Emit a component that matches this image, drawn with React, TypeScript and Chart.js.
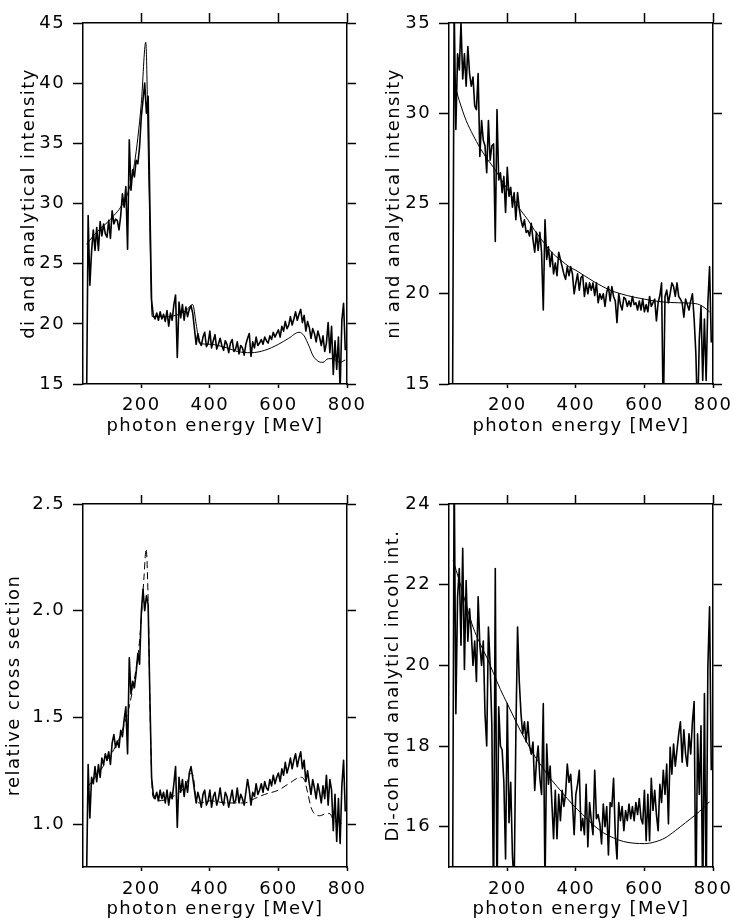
import React, { useEffect, useRef } from "react";
import { Chart, registerables } from "chart.js";

Chart.register(...registerables);

// ---------------- data ----------------
const energy = [
  40, 45, 50, 55, 60, 65, 70, 75, 80, 85, 90, 95, 100, 105, 110, 115,
  120, 125, 130, 135, 140, 145, 150, 155, 160, 165, 170, 175, 180, 185, 190, 195,
  200, 205, 210, 215, 220, 225, 230, 235, 240, 245, 250, 255, 260, 265, 270, 275,
  280, 285, 290, 295, 300, 305, 310, 315, 320, 325, 330, 335, 340, 345, 350, 355,
  360, 365, 370, 375, 380, 385, 390, 395, 400, 405, 410, 415, 420, 425, 430, 435,
  440, 445, 450, 455, 460, 465, 470, 475, 480, 485, 490, 495, 500, 505, 510, 515,
  520, 525, 530, 535, 540, 545, 550, 555, 560, 565, 570, 575, 580, 585, 590, 595,
  600, 605, 610, 615, 620, 625, 630, 635, 640, 645, 650, 655, 660, 665, 670, 675,
  680, 685, 690, 695, 700, 705, 710, 715, 720, 725, 730, 735, 740, 745, 750, 755,
  760, 765, 770, 775, 780, 785, 790, 795,
];

// panel 1: di
const diMeasured = [
  12.0, 29.0, 23.2, 26.0, 27.8, 26.1, 28.0, 26.1, 28.5, 27.3, 28.3, 27.5, 27.2, 28.6, 27.1, 29.4,
  28.3, 28.7, 28.6, 27.8, 29.0, 30.8, 29.7, 31.4, 26.2, 35.3, 31.1, 32.8, 32.2, 33.6, 33.3, 34.7,
  37.2, 38.6, 40.0, 37.5, 38.9, 30.0, 22.0, 20.7, 20.4, 20.9, 20.3, 21.0, 20.4, 20.8, 20.2, 21.1,
  19.8, 20.9, 20.3, 21.6, 22.4, 17.2, 21.8, 20.5, 21.6, 20.3, 21.4, 20.6, 21.2, 21.5, 20.9, 19.6,
  18.3, 19.2, 18.5, 18.2, 18.9, 19.3, 18.1, 18.4, 19.4, 18.0, 18.6, 19.1, 17.9, 18.3, 18.8, 18.2,
  17.8, 18.6, 18.3, 17.6, 18.4, 18.7, 17.7, 17.9, 18.5, 17.5, 18.2, 18.0, 17.4, 18.3, 18.8, 19.2,
  17.3, 18.5, 18.0, 18.9, 18.2, 18.4, 18.7, 18.3, 18.9, 18.6, 18.4, 19.0, 18.7, 19.3, 18.9, 19.2,
  19.5, 18.9, 19.8, 19.4, 20.2, 19.6, 19.9, 20.6, 19.9, 20.4, 21.0, 20.3, 20.8, 21.2, 20.1, 20.7,
  19.4, 20.2, 19.7, 18.8, 19.6, 19.2, 18.5, 19.4, 18.9, 18.2, 19.0, 17.7, 18.4, 20.1, 17.6, 19.8,
  15.8, 18.6, 16.2, 18.9, 14.5, 20.3, 21.7, 17.8,
];
const diAnalyticE = [40, 60, 80, 100, 120, 140, 160, 180, 200, 213, 222, 232, 260, 300, 330, 350, 360, 370, 400, 450, 480, 520, 560, 600, 630, 660, 675, 690, 700, 715, 730, 745, 760, 770, 780, 795];
const diAnalytic = [26.6, 27.3, 27.9, 28.4, 29.0, 29.7, 30.8, 33.3, 38.3, 43.4, 32.0, 20.6, 20.6, 20.7, 21.1, 21.6, 20.0, 18.4, 18.3, 18.0, 17.7, 17.6, 17.8, 18.3, 18.8, 19.3, 19.0, 18.1, 17.4, 16.9, 16.8, 17.1, 17.1, 16.9, 16.8, 17.0];

// panel 2: ni
const niMeasured = [
  12.0, 36.0, 29.1, 33.3, 32.4, 35.0, 31.9, 33.3, 31.5, 33.7, 32.2, 31.5, 32.0, 30.4, 30.2, 32.2,
  27.6, 29.6, 28.5, 28.2, 26.7, 29.6, 27.4, 28.2, 28.3, 22.9, 30.2, 26.3, 26.7, 25.6, 26.5, 24.5,
  27.0, 25.4, 25.9, 24.8, 25.6, 24.1, 25.6, 24.7, 24.1, 23.7, 24.1, 23.4, 23.5, 23.2, 23.9, 23.0,
  22.3, 23.4, 22.4, 23.4, 22.3, 19.1, 24.1, 21.9, 22.6, 21.5, 22.3, 21.1, 21.7, 21.0, 22.3, 21.9,
  21.5, 21.1, 20.8, 21.5, 21.0, 21.5, 21.1, 20.0, 20.6, 21.1, 20.2, 20.9, 21.0, 19.85, 20.6, 20.0,
  20.6, 20.2, 20.6, 19.9, 20.6, 19.5, 20.0, 19.7, 20.0, 19.3, 20.1, 20.4, 19.6, 20.4, 19.85, 19.6,
  18.4, 20.0, 19.4, 19.1, 19.8, 19.7, 19.3, 19.6, 19.3, 19.85, 19.4, 19.5, 19.1, 19.6, 19.1, 19.7,
  19.0, 19.4, 19.0, 19.85, 19.3, 19.5, 19.7, 18.5, 19.5, 19.9, 20.6, 13.0, 19.85, 20.2, 19.5, 20.0,
  20.6, 20.4, 19.85, 20.6, 19.85, 19.7, 19.5, 18.7, 19.7, 19.4, 19.1, 19.6, 20.0, 18.6, 16.7, 13.0,
  17.45, 19.3, 15.2, 18.6, 15.2, 19.5, 21.5, 17.3,
];
const niAnalyticE = [45, 60, 80, 100, 120, 140, 160, 180, 200, 220, 240, 260, 280, 300, 320, 340, 360, 380, 400, 450, 500, 550, 600, 650, 700, 750, 770, 790];
const niAnalytic = [31.7, 30.7, 29.6, 28.8, 28.1, 27.5, 27.0, 26.4, 25.8, 25.2, 24.6, 24.1, 23.5, 23.0, 22.5, 22.1, 21.8, 21.5, 21.3, 20.7, 20.2, 19.9, 19.7, 19.55, 19.5, 19.45, 19.3, 19.0];

// panel 3: relative cross section
const relMeasured = [
  0.70, 1.28, 1.03, 1.22, 1.19, 1.27, 1.20, 1.28, 1.22, 1.31, 1.28, 1.33, 1.30, 1.34, 1.28, 1.38,
  1.42, 1.36, 1.39, 1.36, 1.44, 1.41, 1.49, 1.55, 1.33, 1.78, 1.61, 1.67, 1.64, 1.71, 1.80, 1.75,
  1.99, 2.10, 2.00, 2.07, 2.03, 1.60, 1.22, 1.14, 1.12, 1.15, 1.11, 1.16, 1.12, 1.15, 1.10, 1.16,
  1.09, 1.15, 1.12, 1.19, 1.27, 0.985, 1.22, 1.15, 1.21, 1.13, 1.20, 1.15, 1.24, 1.27, 1.22, 1.16,
  1.10, 1.15, 1.12, 1.08, 1.14, 1.16, 1.09, 1.11, 1.16, 1.08, 1.13, 1.15, 1.09, 1.12, 1.17, 1.11,
  1.09, 1.15, 1.13, 1.08, 1.12, 1.16, 1.10, 1.11, 1.17, 1.10, 1.14, 1.12, 1.09, 1.15, 1.21, 1.16,
  1.09, 1.15, 1.13, 1.19, 1.14, 1.16, 1.19, 1.15, 1.20, 1.17, 1.16, 1.21, 1.18, 1.23, 1.19, 1.22,
  1.24, 1.20, 1.26, 1.23, 1.29, 1.24, 1.27, 1.31, 1.26, 1.30, 1.33, 1.27, 1.31, 1.34, 1.26, 1.30,
  1.20, 1.25, 1.19, 1.14, 1.21, 1.17, 1.12, 1.19, 1.15, 1.10, 1.18, 1.12, 1.23, 1.09, 1.21, 1.16,
  0.97, 1.14, 0.92, 1.12, 0.91, 1.18, 1.30, 1.06,
];
const relAnalyticE = [42, 60, 80, 100, 120, 140, 160, 180, 195, 208, 214, 220, 225, 230, 234, 250, 280, 310, 330, 345, 352, 360, 370, 400, 450, 500, 530, 560, 600, 630, 665, 675, 685, 695, 705, 720, 740, 750, 760, 775, 795];
const relAnalytic = [1.17, 1.21, 1.25, 1.30, 1.35, 1.42, 1.52, 1.68, 1.86, 2.16, 2.29, 2.05, 1.58, 1.23, 1.13, 1.11, 1.12, 1.15, 1.18, 1.24, 1.22, 1.12, 1.10, 1.11, 1.10, 1.10, 1.12, 1.14, 1.16, 1.19, 1.22, 1.21, 1.15, 1.08, 1.05, 1.04, 1.05, 1.05, 1.02, 1.01, 1.00];

// panel 4: Di-coh
const dcMeasured = [
  13.0, 25.0, 18.8, 21.7, 22.4, 20.5, 22.9, 19.9, 22.1, 20.6, 21.4, 20.8, 20.0, 20.6, 19.6, 21.7,
  20.5, 20.0, 20.6, 18.8, 18.0, 20.95, 20.0, 18.5, 14.0, 22.4, 14.0, 18.97, 18.0, 17.9, 17.1, 15.2,
  19.05, 16.1, 17.1, 15.3, 14.5, 18.3, 20.95, 19.6, 18.8, 18.3, 18.6, 18.1, 18.6, 18.0, 17.8, 18.1,
  16.9, 17.6, 18.0, 17.2, 16.8, 19.05, 14.5, 18.05, 17.05, 17.5, 16.6, 15.7, 16.9, 15.7, 16.8, 16.15,
  16.9, 16.5, 16.8, 17.55, 17.1, 17.3, 16.6, 15.8, 16.8, 17.05, 17.4, 15.9, 16.2, 15.8, 17.05, 15.5,
  16.6, 16.15, 15.8, 17.4, 16.2, 16.3, 16.07, 15.57, 16.56, 16.0, 16.5, 15.3, 16.6, 16.5, 17.2, 15.8,
  15.2, 16.6, 16.15, 16.5, 15.9, 16.4, 16.15, 16.56, 16.2, 16.5, 16.15, 16.6, 16.3, 16.7, 16.2, 16.07,
  16.9, 15.65, 16.8, 15.65, 17.2, 16.4, 16.9, 16.3, 15.9, 17.05, 16.6, 17.4, 16.8, 17.55, 16.07, 17.97,
  17.3, 18.05, 17.5, 17.9, 18.3, 18.6, 17.6, 18.4, 17.8, 17.5, 18.3, 17.8, 18.6, 19.1, 14.0, 18.3,
  16.8, 18.5, 14.0, 19.3, 14.0, 19.96, 21.45, 17.4,
];
const dcAnalyticE = [42, 60, 80, 100, 120, 140, 160, 180, 200, 220, 240, 260, 280, 300, 330, 360, 390, 420, 450, 480, 510, 540, 570, 600, 630, 660, 690, 720, 750, 770, 790];
const dcAnalytic = [22.6, 22.1, 21.5, 20.95, 20.55, 20.2, 19.8, 19.4, 19.05, 18.7, 18.35, 18.05, 17.75, 17.5, 17.15, 16.85, 16.55, 16.3, 16.05, 15.85, 15.72, 15.63, 15.59, 15.58, 15.62, 15.72, 15.9, 16.1, 16.3, 16.45, 16.62];

// axes
const xTicks = [200, 400, 600, 800];
const xTickLabels = ["200", "400", "600", "800"];
const diTicks = [15, 20, 25, 30, 35, 40, 45];
const diTickLabels = ["15", "20", "25", "30", "35", "40", "45"];
const niTicks = [15, 20, 25, 30, 35];
const niTickLabels = ["15", "20", "25", "30", "35"];
const relTicks = [1.0, 1.5, 2.0, 2.5];
const relTickLabels = ["1.0", "1.5", "2.0", "2.5"];
const dcTicks = [16, 18, 20, 22, 24];
const dcTickLabels = ["16", "18", "20", "22", "24"];

const X_MIN = 30;
const X_MAX = 800;
const X_TITLE = "photon energy [MeV]";

// ---------------- styling ----------------
const FONT_FAMILY = '"DejaVu Sans", sans-serif';
const LETTER_SPACING = "1.4px";
const INK = "#000";

type PanelSpec = {
  key: string;
  left: number;
  top: number;
  width: number;
  height: number;
  areaLeft: number;
  areaRight: number;
  areaTop: number;
  areaBottom: number;
  yMin: number;
  yMax: number;
  yTicks: number[];
  yTickLabels: string[];
  yTitle: string;
  yTitlePad: number;
  xLabelPad: number;
  xTitlePad: number;
  topTick: number;
  measured: number[];
  anaE: number[];
  ana: number[];
  dashed: boolean;
};

const panels: PanelSpec[] = [
  {
    key: "di", left: 0, top: 0, width: 366, height: 440,
    areaLeft: 83, areaRight: 347, areaTop: 23, areaBottom: 384,
    yMin: 15, yMax: 45, yTicks: diTicks, yTickLabels: diTickLabels,
    yTitle: "di and analytical intensity", yTitlePad: 19,
    xLabelPad: 7, xTitlePad: 3, topTick: 10,
    measured: diMeasured, anaE: diAnalyticE, ana: diAnalytic, dashed: false,
  },
  {
    key: "ni", left: 366, top: 0, width: 367, height: 440,
    areaLeft: 83, areaRight: 347, areaTop: 23, areaBottom: 384,
    yMin: 15, yMax: 35, yTicks: niTicks, yTickLabels: niTickLabels,
    yTitle: "ni and analytical intensity", yTitlePad: 17.5,
    xLabelPad: 7, xTitlePad: 3, topTick: 10,
    measured: niMeasured, anaE: niAnalyticE, ana: niAnalytic, dashed: false,
  },
  {
    key: "rel", left: 0, top: 440, width: 366, height: 483,
    areaLeft: 83, areaRight: 347, areaTop: 64, areaBottom: 427,
    yMin: 0.8, yMax: 2.5, yTicks: relTicks, yTickLabels: relTickLabels,
    yTitle: "relative cross section", yTitlePad: 4,
    xLabelPad: 8, xTitlePad: 2.5, topTick: 9,
    measured: relMeasured, anaE: relAnalyticE, ana: relAnalytic, dashed: true,
  },
  {
    key: "dc", left: 366, top: 440, width: 367, height: 483,
    areaLeft: 83, areaRight: 347, areaTop: 64, areaBottom: 427,
    yMin: 15, yMax: 24, yTicks: dcTicks, yTickLabels: dcTickLabels,
    yTitle: "Di-coh and analyticl incoh int.", yTitlePad: 17,
    xLabelPad: 8, xTitlePad: 2.5, topTick: 9,
    measured: dcMeasured, anaE: dcAnalyticE, ana: dcAnalytic, dashed: false,
  },
];

const spacingPlugin = {
  id: "letterSpacing",
  beforeLayout(chart: any) {
    chart.ctx.letterSpacing = LETTER_SPACING;
  },
  beforeDraw(chart: any) {
    chart.ctx.letterSpacing = LETTER_SPACING;
  },
};

function buildConfig(s: PanelSpec): any {
  const font = { family: FONT_FAMILY, size: 18, weight: "normal", lineHeight: 1.2 };
  const border = { display: true, color: INK, width: 1.5 };
  const setX = (scale: any) => {
    scale.ticks = xTicks.map((v) => ({ value: v }));
  };
  const setY = (scale: any) => {
    scale.ticks = s.yTicks.map((v) => ({ value: v }));
  };
  const zeroPad = (scale: any) => {
    scale.paddingLeft = 0;
    scale.paddingRight = 0;
    scale.paddingTop = 0;
    scale.paddingBottom = 0;
  };
  return {
    type: "line",
    data: {
      datasets: [
        {
          data: s.measured.map((v, i) => ({ x: energy[i], y: v })),
          borderColor: INK,
          borderWidth: 1.6,
          pointRadius: 0,
          tension: 0,
          borderJoinStyle: "round",
          fill: false,
          xAxisID: "x",
          yAxisID: "y",
        },
        {
          data: s.anaE.map((e, i) => ({ x: e, y: s.ana[i] })),
          borderColor: INK,
          borderWidth: 1,
          borderDash: s.dashed ? [7, 4] : [],
          pointRadius: 0,
          cubicInterpolationMode: "monotone",
          fill: false,
          xAxisID: "x",
          yAxisID: "y",
        },
      ],
    },
    options: {
      responsive: false,
      animation: false,
      events: [],
      layout: { padding: 0 },
      plugins: { legend: { display: false }, tooltip: { enabled: false }, title: { display: false } },
      scales: {
        x: {
          type: "linear",
          position: "bottom",
          min: X_MIN,
          max: X_MAX,
          afterBuildTicks: setX,
          afterFit: (scale: any) => {
            scale.height = s.height - s.areaBottom;
            zeroPad(scale);
          },
          ticks: {
            color: INK,
            font,
            padding: s.xLabelPad,
            autoSkip: false,
            maxRotation: 0,
            minRotation: 0,
            callback: (_v: any, i: number) => xTickLabels[i],
          },
          grid: { drawOnChartArea: false, drawTicks: true, tickLength: 4, tickColor: INK, tickWidth: 1.5 },
          border,
          title: { display: true, text: X_TITLE, color: INK, font, padding: { top: 0, bottom: s.xTitlePad } },
        },
        x2: {
          type: "linear",
          position: "top",
          min: X_MIN,
          max: X_MAX,
          afterBuildTicks: setX,
          afterFit: (scale: any) => {
            scale.height = s.areaTop;
            zeroPad(scale);
          },
          ticks: { display: false },
          grid: { drawOnChartArea: false, drawTicks: true, tickLength: s.topTick, tickColor: INK, tickWidth: 1.5 },
          border,
        },
        y: {
          type: "linear",
          position: "left",
          min: s.yMin,
          max: s.yMax,
          afterBuildTicks: setY,
          afterFit: (scale: any) => {
            scale.width = s.areaLeft;
            zeroPad(scale);
          },
          ticks: {
            color: INK,
            font,
            padding: 8,
            autoSkip: false,
            callback: (_v: any, i: number) => s.yTickLabels[i],
          },
          grid: { drawOnChartArea: false, drawTicks: true, tickLength: 10, tickColor: INK, tickWidth: 1.5 },
          border,
          title: { display: true, text: s.yTitle, color: INK, font, padding: { top: s.yTitlePad, bottom: 0 } },
        },
        y2: {
          type: "linear",
          position: "right",
          min: s.yMin,
          max: s.yMax,
          afterBuildTicks: setY,
          afterFit: (scale: any) => {
            scale.width = s.width - s.areaRight;
            zeroPad(scale);
          },
          ticks: { display: false },
          grid: { drawOnChartArea: false, drawTicks: true, tickLength: 9, tickColor: INK, tickWidth: 1.5 },
          border,
        },
      },
    },
    plugins: [spacingPlugin],
  };
}

function Panel({ spec }: { spec: PanelSpec }) {
  const ref = useRef<HTMLCanvasElement | null>(null);
  useEffect(() => {
    const canvas = ref.current;
    if (!canvas) return;
    const chart = new Chart(canvas, buildConfig(spec));
    return () => chart.destroy();
  }, [spec]);
  return (
    <div style={{ position: "absolute", left: spec.left, top: spec.top, width: spec.width, height: spec.height }}>
      <canvas
        ref={ref}
        width={spec.width}
        height={spec.height}
        style={{ display: "block", width: spec.width, height: spec.height }}
      />
    </div>
  );
}

export default function App() {
  return (
    <div style={{ position: "absolute", left: 0, top: 0, width: 733, height: 923, background: "#fff", overflow: "hidden" }}>
      {panels.map((p) => (
        <Panel key={p.key} spec={p} />
      ))}
    </div>
  );
}
